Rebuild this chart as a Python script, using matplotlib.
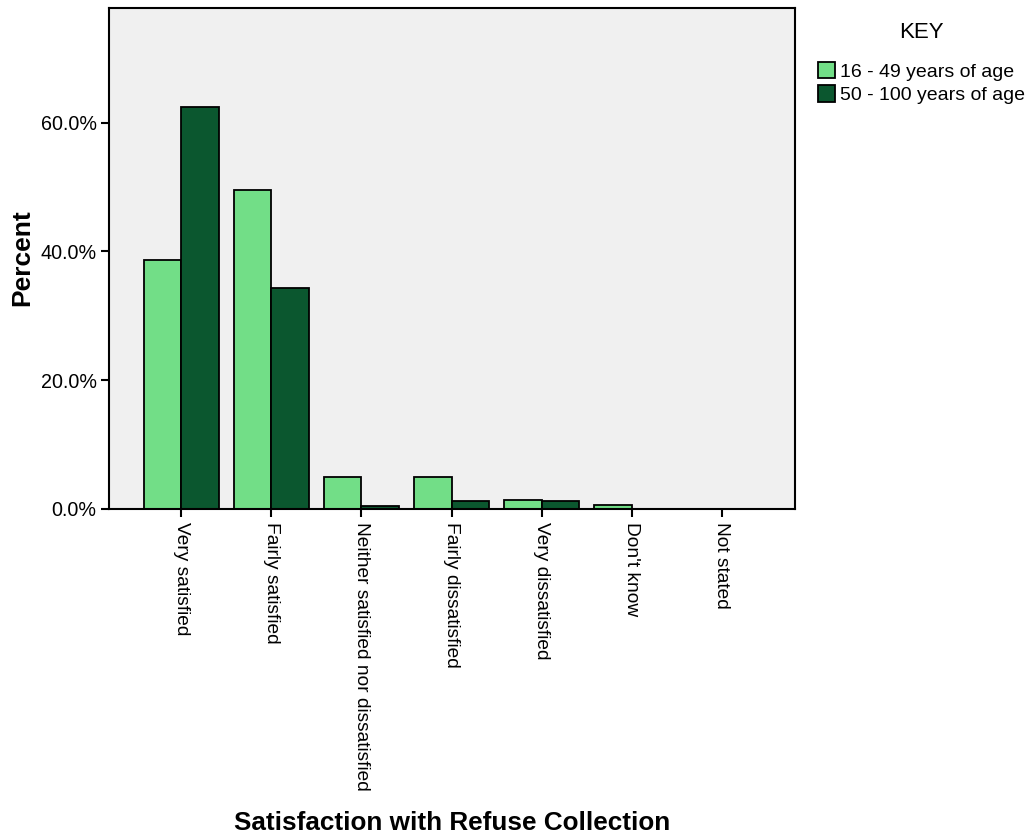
import matplotlib
matplotlib.use("Agg")
import matplotlib.pyplot as plt
import numpy as np
from matplotlib.ticker import FuncFormatter

plt.rcParams['font.family'] = ['Liberation Sans', 'DejaVu Sans']

categories = ["Very satisfied", "Fairly satisfied", "Neither satisfied nor dissatisfied",
              "Fairly dissatisfied", "Very dissatisfied", "Don't know", "Not stated"]
series_names = ["16 - 49 years of age", "50 - 100 years of age"]
young = [38.6, 49.5, 4.9, 4.9, 1.45, 0.6, 0.0]
old = [62.4, 34.3, 0.5, 1.3, 1.3, 0.0, 0.0]
colors = ["#72DE87", "#0B572F"]

fig = plt.figure(figsize=(10.32, 8.4), dpi=100)
ax = fig.add_axes([109/1032, 1-509/840, (795-109)/1032, (509-8)/840])
ax.set_facecolor("#F0F0F0")

x = np.arange(len(categories))
w = 0.415
ax.bar(x - w/2, young, width=w, color=colors[0], edgecolor="black", linewidth=1.3, label=series_names[0])
ax.bar(x + w/2, old, width=w, color=colors[1], edgecolor="black", linewidth=1.3, label=series_names[1])

ax.set_xlim(-0.8, 6.81)
ax.set_ylim(0, 77.8)
ax.set_yticks([0, 20, 40, 60])
ax.yaxis.set_major_formatter(FuncFormatter(lambda v, p: f"{v:.1f}%"))
ax.set_xticks(x)
ax.set_xticklabels(categories, rotation=270, fontsize=13.8)
ax.tick_params(axis='y', labelsize=14.2, length=6, width=1.5, pad=3)
ax.tick_params(axis='x', length=6, width=1.5)
for s in ax.spines.values():
    s.set_linewidth(1.5)
    s.set_color("black")

fig.text(22/1032, 1-258/840, "Percent", fontsize=19, fontweight='bold',
         ha='center', va='center', rotation=90)
fig.text(452/1032, 1-823/840, "Satisfaction with Refuse Collection", fontsize=18.8,
         fontweight='bold', ha='center', va='center')

fig.text(921/1032, 1-33/840, "KEY", fontsize=16, ha='center', va='center')
handles, labels = ax.get_legend_handles_labels()
leg = fig.legend(handles, labels, loc='upper left', bbox_to_anchor=(804/1032, 1-48/840),
                 frameon=False, fontsize=14.0, handlelength=0.9, handleheight=0.95,
                 handletextpad=0.25, labelspacing=0.22, borderpad=0.2)

fig.savefig("out.png", dpi=100)
